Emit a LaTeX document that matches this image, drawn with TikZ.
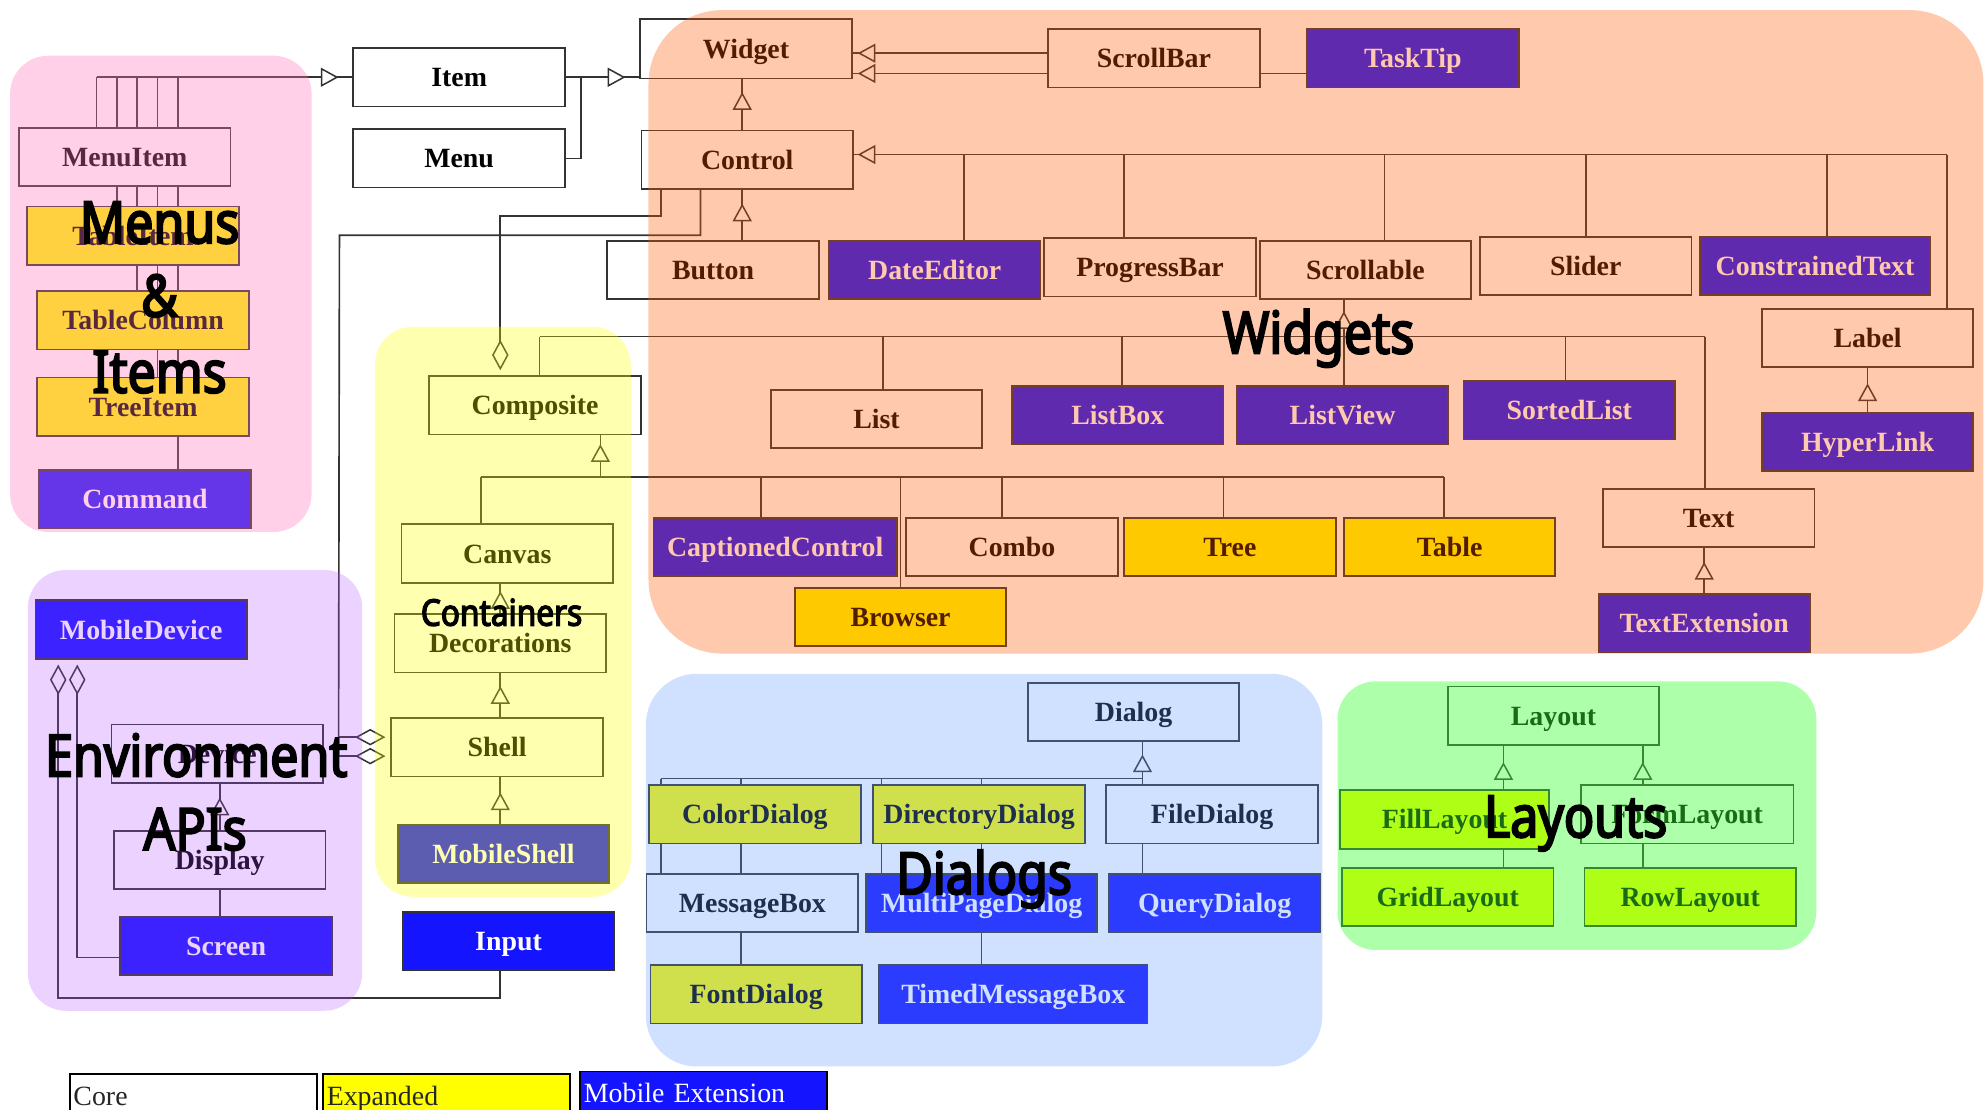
\documentclass[tikz,border=0pt]{standalone}
\usepackage{fontspec}
\setmainfont{Liberation Serif}
\newfontfamily\labelfont[FakeStretch=0.86, FakeBold=3.5]{Noto Sans}
\usetikzlibrary{arrows.meta,decorations.markings}
\pgfdeclarelayer{bg}
\pgfdeclarelayer{regions}
\pgfdeclarelayer{labels}
\pgfsetlayers{bg,main,regions,labels}
\definecolor{mobc}{HTML}{1414FF}
\definecolor{expc}{HTML}{FFFF00}
\definecolor{linec}{HTML}{333333}
\definecolor{rPink}{rgb}{1,0.47,0.74}
\definecolor{rOrange}{rgb}{1,0.35,0}
\definecolor{rYellow}{rgb}{1,1,0}
\definecolor{rPurple}{rgb}{0.7,0.3,1}
\definecolor{rBlue}{rgb}{0.4,0.6,1}
\definecolor{rGreen}{rgb}{0.25,1,0.2}
\tikzset{
  box/.style={draw=linec, line width=1.4pt, fill=white, minimum width=167pt, minimum height=46pt,
    inner sep=0pt, text height=15pt, text depth=0pt, font=\fontsize{22}{22}\selectfont\bfseries, text=black},
  exbox/.style={box, fill=expc},
  mobox/.style={box, fill=mobc, text=white},
  legendbox/.style={draw=black, line width=1.4pt, minimum width=195pt, minimum height=34pt, text width=189pt,
    align=left, inner sep=3pt, text height=15pt, text depth=0pt, font=\fontsize{22}{22}\selectfont},
  conn/.style={draw=linec, line width=1.3pt},
  inh/.style={postaction={decorate, decoration={markings, mark=at position -#1 with
    {\arrow{Triangle[length=14pt, width=15pt, fill=white, line width=1.2pt]}}}}},
  inh/.default=10pt,
  agg/.style={-{Diamond[length=24pt, width=13pt, fill=white, line width=1.2pt]}, shorten >=4pt},
  big/.style={anchor=base, inner sep=0pt, text=black, font=\labelfont\fontsize{46}{46}\selectfont},
  regionfill/.style 2 args={fill=#1, fill opacity=#2, draw=none},
}
\begin{document}
\begin{tikzpicture}[x=1pt, y=-1pt]
\useasboundingbox (0,0) rectangle (1568,876);
% ---------- nodes ----------
\node[box] (MenuItem) at (98.5,124) {MenuItem};
\node[exbox] (TableItem) at (105,186) {TableItem};
\node[exbox] (TableColumn) at (113,253) {TableColumn};
\node[exbox] (TreeItem) at (113,321) {TreeItem};
\node[mobox] (Command) at (114.5,394) {Command};
\node[box] (Item) at (362.5,61) {Item};
\node[box] (Menu) at (362.5,125) {Menu};
\node[box, minimum height=47pt] (Widget) at (589,38.5) {Widget};
\node[box] (ScrollBar) at (911,46) {ScrollBar};
\node[mobox] (TaskTip) at (1115.5,46) {TaskTip};
\node[box] (Control) at (590,126) {Control};
\node[box] (Button) at (563,213) {Button};
\node[mobox] (DateEditor) at (738,213) {DateEditor};
\node[box] (ProgressBar) at (908,211) {ProgressBar};
\node[box] (Scrollable) at (1078,213) {Scrollable};
\node[box] (Slider) at (1252,210) {Slider};
\node[mobox, minimum width=182pt] (ConstrainedText) at (1433,210) {ConstrainedText};
\node[box] (Label) at (1474.5,267) {Label};
\node[mobox] (HyperLink) at (1474.5,349) {HyperLink};
\node[box] (List) at (692,331) {List};
\node[mobox] (ListBox) at (882.5,328) {ListBox};
\node[mobox] (ListView) at (1060,328) {ListView};
\node[mobox] (SortedList) at (1239,324) {SortedList};
\node[box] (Text) at (1349,409) {Text};
\node[mobox] (TextExtension) at (1345.5,492) {TextExtension};
\node[mobox, minimum width=192pt] (CaptionedControl) at (612,432) {CaptionedControl};
\node[box] (Combo) at (799,432) {Combo};
\node[exbox] (Tree) at (971,432) {Tree};
\node[exbox] (Table) at (1144.5,432) {Table};
\node[exbox] (Browser) at (711,487) {Browser};
\node[box] (Composite) at (422.5,320) {Composite};
\node[box] (Canvas) at (400.5,437) {Canvas};
\node[box] (Decorations) at (395,508) {Decorations};
\node[box] (Shell) at (392.5,590) {Shell};
\node[mobox] (MobileShell) at (397.5,674) {MobileShell};
\node[mobox] (Input) at (401.5,743) {Input};
\node[mobox] (MobileDevice) at (111.5,497) {MobileDevice};
\node[box] (Device) at (171.5,595) {Device};
\node[box] (Display) at (173.5,679) {Display};
\node[mobox] (Screen) at (178.5,747) {Screen};
\node[box] (Dialog) at (895,562) {Dialog};
\node[exbox] (ColorDialog) at (596,643) {ColorDialog};
\node[exbox] (DirectoryDialog) at (773,643) {DirectoryDialog};
\node[box] (FileDialog) at (957,643) {FileDialog};
\node[box] (MessageBox) at (594,713) {MessageBox};
\node[mobox, minimum width=182pt] (MultiPageDialog) at (775,713) {MultiPageDialog};
\node[mobox] (QueryDialog) at (959,713) {QueryDialog};
\node[exbox] (FontDialog) at (597,785) {FontDialog};
\node[mobox, minimum width=212pt] (TimedMessageBox) at (800,785) {TimedMessageBox};
\node[box] (Layout) at (1226.5,565) {Layout};
\node[exbox, minimum width=165pt] (FillLayout) at (1140.5,647) {FillLayout};
\node[box, minimum width=168pt] (FormLayout) at (1332,643) {FormLayout};
\node[exbox] (GridLayout) at (1143,708) {GridLayout};
\node[exbox] (RowLayout) at (1334.5,708) {RowLayout};
% legend
\node[legendbox, fill=white, text=black!85] (lgCore) at (152.5,865) {Core};
\node[legendbox, fill=expc, text=black!85] (lgExp) at (352.5,865) {Expanded};
\node[legendbox, fill=mobc, text=white] (lgMob) at (555.5,863) {Mobile Extension};
% ---------- connectors ----------
\begin{pgfonlayer}{bg}
\fill[white] (0,0) rectangle (1568,876);
% menus & items
\path (Item.west) ++(-202,0) coordinate (m1);
\path (Item.west) ++(-186,0) coordinate (m2);
\path (Item.west) ++(-170,0) coordinate (m3);
\path (Item.west) ++(-154,0) coordinate (m4);
\path (Item.west) ++(-138,0) coordinate (m5);
\draw[conn] (MenuItem.north -| m1) -- (m1);
\draw[conn] (TableItem.north -| m2) -- (m2);
\draw[conn] (TableColumn.north -| m3) -- (m3);
\draw[conn] (TreeItem.north -| m4) -- (m4);
\draw[conn] (Command.north -| m5) -- (m5);
\draw[conn, inh=11pt] (m1) -- (Item.west);
% item / menu -> widget
\path (Item.east) ++(12,0) coordinate (ij);
\draw[conn] (Item.east) -- (ij);
\draw[conn] (Menu.east) -| (ij);
\draw[conn, inh=11pt] (ij) -- (ij -| Widget.west);
% scrollbar / tasktip -> widget
\draw[conn, inh=4pt] ([yshift=4pt]ScrollBar.west) -- ([yshift=4pt]ScrollBar.west -| Widget.east);
\draw[conn, inh=4pt] ([yshift=-12pt]TaskTip.west) -- ([yshift=-12pt]TaskTip.west -| Widget.east);
% control -> widget
\draw[conn, inh=10pt] ([xshift=-4pt]Control.north) -- ([xshift=-4pt]Control.north |- Widget.south);
% button -> control
\path (Control.south) ++(-4,0) coordinate (cbt);
\draw[conn, inh=11pt] (cbt |- Button.north) -- (cbt);
% control bus
\path (Control.east) ++(0,-4) coordinate (ce);
\path (ce) ++(87,0) coordinate (b1);
\path (ce) ++(213,0) coordinate (b2);
\path (ce) ++(419,0) coordinate (b3);
\path (ce) ++(578,0) coordinate (b4);
\path (ce) ++(768,0) coordinate (b5);
\path (ce) ++(863,0) coordinate (b6);
\draw[conn] (ce) -- (b6);
\draw[conn, inh=3pt] (b1) -- (ce);
\draw[conn] (b1) -- (b1 |- DateEditor.north);
\draw[conn] (b2) -- (b2 |- ProgressBar.north);
\draw[conn] (b3) -- (b3 |- Scrollable.north);
\draw[conn] (b4) -- (b4 |- Slider.north);
\draw[conn] (b5) -- (b5 |- ConstrainedText.north);
\draw[conn] (b6) -- (b6 |- Label.north);
% scrollable bus
\path (Scrollable.south) ++(-17,29) coordinate (sv);
\path (sv) ++(-635,0) coordinate (s0);
\path (sv) ++(-364,0) coordinate (s1);
\path (sv) ++(-175,0) coordinate (s2);
\path (sv) ++(175,0) coordinate (s3);
\path (sv) ++(285,0) coordinate (s4);
\draw[conn, inh=9pt] (sv) -- (sv |- Scrollable.south);
\draw[conn] (s0) -- (s4);
\draw[conn] (s0) -- (s0 |- Composite.north);
\draw[conn] (s1) -- (s1 |- List.north);
\draw[conn] (s2) -- (s2 |- ListBox.north);
\draw[conn] (sv) -- (sv |- ListView.north);
\draw[conn] (s3) -- (s3 |- SortedList.north);
\draw[conn] (s4) -- (s4 |- Text.north);
% composite bus
\path (Composite.south) ++(51.5,33) coordinate (cv);
\path (cv) ++(-94,0) coordinate (c0);
\path (cv) ++(127,0) coordinate (c1);
\path (cv) ++(237,0) coordinate (c2);
\path (cv) ++(317,0) coordinate (c3);
\path (cv) ++(492,0) coordinate (c4);
\path (cv) ++(666,0) coordinate (c5);
\draw[conn, inh=7pt] (cv) -- (cv |- Composite.south);
\draw[conn] (c0) -- (c5);
\draw[conn] (c0) -- (c0 |- Canvas.north);
\draw[conn] (c1) -- (c1 |- CaptionedControl.north);
\draw[conn] (c2) -- (c2 |- Browser.north);
\draw[conn] (c3) -- (c3 |- Combo.north);
\draw[conn] (c4) -- (c4 |- Tree.north);
\draw[conn] (c5) -- (c5 |- Table.north);
% control -> composite / shell (aggregation)
\path (Control.south) ++(-68,0) coordinate (k1);
\path (k1) ++(-127,21) coordinate (k2);
\draw[conn, agg] (k1) |- (k2) -- (k2 |- Composite.north);
\path (Control.south) ++(-37,0) coordinate (k3);
\path (k3) ++(-285,36) coordinate (k4);
\path (Shell.west) ++(-41,-8) coordinate (k5);
\path (k5) ++(0,15) coordinate (k6);
\draw[conn] (k3) |- (k4) -- (k6);
\draw[conn, agg] (k5) -- (k5 -| Shell.west);
\draw[conn, agg] (k6) -- (k6 -| Shell.west);
% input / screen -> mobiledevice
\path (Input.south) ++(-6.5,21) coordinate (i1);
\path (MobileDevice.south) ++(-65.5,267) coordinate (i2);
\path (MobileDevice.south) ++(-50.5,0) coordinate (i3);
\draw[conn, agg] (i1 |- Input.south) -- (i1) -- (i2) -- (i2 |- MobileDevice.south);
\draw[conn, agg] ([yshift=-9pt]Screen.west) -| (i3);
% device / display / screen
\draw[conn, inh=11pt] (Display.north) -- (Display.north |- Device.south);
\draw[conn] (Display.south) -- (Display.south |- Screen.north);
% containers chain
\draw[conn, inh=6pt] (Decorations.north) -- (Decorations.north |- Canvas.south);
\draw[conn, inh=10pt] (Decorations.south |- Shell.north) -- (Decorations.south);
\draw[conn, inh=12pt] (Decorations.south |- MobileShell.north) -- (Decorations.south |- Shell.south);
% label / text
\draw[conn, inh=12pt] (HyperLink.north) -- (Label.south);
\draw[conn, inh=11pt] (TextExtension.north) -- (TextExtension.north |- Text.south);
% dialogs
\path (Dialog.south) ++(7,29) coordinate (dj);
\path (dj) ++(-380,0) coordinate (d1);
\path (dj) ++(-317,0) coordinate (d2);
\path (dj) ++(-206,0) coordinate (d3);
\path (dj) ++(-127,0) coordinate (d4);
\draw[conn, inh=10pt] (dj) -- (dj |- Dialog.south);
\draw[conn] (d1) -- (dj);
\draw[conn] (d1) -- (d1 |- MessageBox.north);
\draw[conn] (d2) -- (d2 |- FontDialog.north);
\draw[conn] (d3) -- (d3 |- MultiPageDialog.north);
\draw[conn] (d4) -- (d4 |- TimedMessageBox.north);
\draw[conn] (dj) -- (dj |- QueryDialog.north);
% layouts
\path (Layout.south) ++(-39.5,0) coordinate (l1);
\path (Layout.south) ++(70.5,0) coordinate (l2);
\draw[conn, inh=13pt] (l1 |- FillLayout.north) -- (l1);
\draw[conn] (l1 |- GridLayout.north) -- (l1 |- FillLayout.south);
\draw[conn, inh=13pt] (l2 |- FormLayout.north) -- (l2);
\draw[conn] (l2 |- RowLayout.north) -- (l2 |- FormLayout.south);
\end{pgfonlayer}
% ---------- regions ----------
\begin{pgfonlayer}{regions}
\fill[regionfill={rPink}{0.34}, rounded corners=30pt] (8,44) rectangle (246,420);
\fill[regionfill={rOrange}{0.32}, rounded corners=58pt] (512,8) rectangle (1566,516);
\fill[regionfill={rYellow}{0.31}, rounded corners=30pt] (296,258) rectangle (498,708);
\fill[regionfill={rPurple}{0.25}, rounded corners=30pt] (22,450) rectangle (286,798);
\fill[regionfill={rBlue}{0.3}, rounded corners=40pt] (510,532) rectangle (1044,842);
\fill[regionfill={rGreen}{0.42}, rounded corners=30pt] (1056,538) rectangle (1434,750);
\end{pgfonlayer}
% ---------- big labels ----------
\begin{pgfonlayer}{labels}
\node[big] (tMenus) at (126,192) {Menus};
\node[big] (tAmp) at (126,250) {\&};
\node[big] (tItems) at (126,310) {Items};
\node[big] (tWidgets) at (1041,279) {Widgets};
\node[big, font=\labelfont\fontsize{29}{29}\selectfont] (tCont) at (396,494) {Containers};
\node[big] (tEnv) at (155,613) {Environment};
\node[big] (tAPIs) at (154,671) {APIs};
\node[big] (tDialogs) at (777,706) {Dialogs};
\node[big] (tLayouts) at (1244,661) {Layouts};
\end{pgfonlayer}
\end{tikzpicture}
\end{document}
